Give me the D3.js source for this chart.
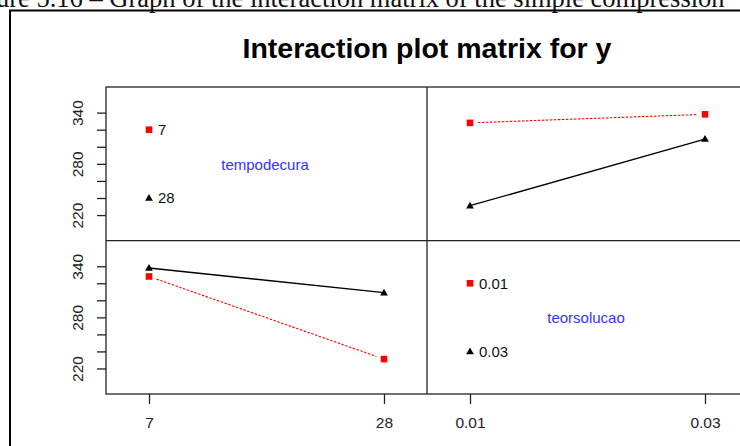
<!DOCTYPE html>
<html>
<head>
<meta charset="utf-8">
<title>Interaction plot matrix for y</title>
<script src="https://cdnjs.cloudflare.com/ajax/libs/d3/7.8.5/d3.min.js"></script>
<style>
  body { margin: 0; background: #fff; }
  svg { display: block; }
  .chart text { font-family: Arial, "Liberation Sans", sans-serif; }
  .caption { font-family: "Liberation Serif", "Times New Roman", serif !important; }
</style>
</head>
<body>
<svg class="chart"></svg>
<script>
// factor levels
const tempodecura = ["7", "28"];
const teorsolucao = ["0.01", "0.03"];

// mean of y per tempodecura level, at teorsolucao 0.01 and 0.03
const meanTempo7 = [328, 338];
const meanTempo28 = [231, 309];

// y axis ticks (only some get a label)
const yTicks = [220, 240, 260, 280, 300, 320, 340];
const yLabels = [220, 280, 340];

// legend text positions on the y scale
const legendLevels = [320, 240];
const legendNameAt = 280;

var W = 740, H = 446;
var svg = d3.select(".chart").attr("width", W).attr("height", H);

// caption of the page above the figure, cut off at the top like the source
svg.append("text")
    .attr("class", "caption")
    .attr("x", -4)
    .attr("y", 6.5)
    .attr("font-size", 26.5)
    .attr("fill", "#111")
    .text("ure 5.16 \u2013 Graph of the interaction matrix of the simple compression");

// outer frame of the figure
svg.append("rect")
    .attr("x", 10).attr("y", 10.5)
    .attr("width", 800).attr("height", 500)
    .attr("fill", "none")
    .attr("stroke", "#000")
    .attr("stroke-width", 2);

svg.append("text")
    .attr("x", 427)
    .attr("y", 58.3)
    .attr("text-anchor", "middle")
    .attr("font-size", 28.5)
    .attr("font-weight", "bold")
    .attr("fill", "#000")
    .text("Interaction plot matrix for y");

//panel grid
var xs = [106, 427, 748];
var ys = [87, 240.7, 394];

var colScale = [
    d3.scalePoint().domain(tempodecura).range([xs[0], xs[1]]).padding(0.183),
    d3.scalePoint().domain(teorsolucao).range([xs[1], xs[2]]).padding(0.183)
];
var rowScale = [
    d3.scaleLinear().domain([190, 370]).range([ys[1], ys[0]]),
    d3.scaleLinear().domain([190, 370]).range([ys[2], ys[1]])
];

var red = "#ff0000";
var tri = d3.symbol().type(d3.symbolTriangle).size(26);

function drawSeries(col, row, levels, values, isRed) {
    var x = colScale[col], y = rowScale[row];
    var pts = levels.map((l, i) => [x(l), y(values[i])]);
    var line = pts;
    if (isRed) {
        // type "b" style: leave a gap around the points
        var dx = pts[1][0] - pts[0][0], dy = pts[1][1] - pts[0][1];
        var len = Math.sqrt(dx * dx + dy * dy), g = 8 / len;
        line = [[pts[0][0] + dx * g, pts[0][1] + dy * g],
                [pts[1][0] - dx * g, pts[1][1] - dy * g]];
    }
    svg.append("path")
        .attr("d", d3.line()(line))
        .attr("fill", "none")
        .attr("stroke", isRed ? red : "#000")
        .attr("stroke-width", isRed ? 1.1 : 1.4)
        .attr("stroke-dasharray", isRed ? "2.5,1.5" : null);
    pts.forEach(p => drawMarker(p[0], p[1], isRed));
}

function drawMarker(px, py, isRed) {
    if (isRed) {
        svg.append("rect")
            .attr("x", px - 3.3).attr("y", py - 3.3)
            .attr("width", 6.6).attr("height", 6.6)
            .attr("fill", red);
    } else {
        svg.append("path")
            .attr("d", tri)
            .attr("transform", "translate(" + px + "," + (py + 0.5) + ")")
            .attr("fill", "#000");
    }
}

function drawLegend(col, row, levels, name) {
    var x = colScale[col], y = rowScale[row];
    var mx = x(levels[0]);
    levels.forEach((l, i) => {
        var py = y(legendLevels[i]);
        drawMarker(mx, py, i == 0);
        svg.append("text")
            .attr("x", mx + 9)
            .attr("y", py)
            .attr("dy", "0.36em")
            .attr("font-size", 15)
            .attr("fill", "#111")
            .text(l);
    });
    svg.append("text")
        .attr("x", (xs[col] + xs[col + 1]) / 2 - 1.5)
        .attr("y", y(legendNameAt))
        .attr("dy", "0.4em")
        .attr("text-anchor", "middle")
        .attr("font-size", 15)
        .attr("fill", "#3333ff")
        .text(name);
}

// top-left: legend for tempodecura
drawLegend(0, 0, tempodecura, "tempodecura");
// top-right: y against teorsolucao, one trace per tempodecura
drawSeries(1, 0, teorsolucao, meanTempo7, true);
drawSeries(1, 0, teorsolucao, meanTempo28, false);
// bottom-left: y against tempodecura, one trace per teorsolucao
drawSeries(0, 1, tempodecura, [meanTempo7[0], meanTempo28[0]], true);
drawSeries(0, 1, tempodecura, [meanTempo7[1], meanTempo28[1]], false);
// bottom-right: legend for teorsolucao
drawLegend(1, 1, teorsolucao, "teorsolucao");

// panel borders
var border = svg.append("g")
    .attr("fill", "none")
    .attr("stroke", "#222")
    .attr("stroke-width", 1.3);
border.append("rect")
    .attr("x", xs[0]).attr("y", ys[0])
    .attr("width", xs[2] - xs[0]).attr("height", ys[2] - ys[0]);
border.append("line")
    .attr("x1", xs[1]).attr("x2", xs[1]).attr("y1", ys[0]).attr("y2", ys[2]);
border.append("line")
    .attr("x1", xs[0]).attr("x2", xs[2]).attr("y1", ys[1]).attr("y2", ys[1]);

// left axes
rowScale.forEach(function(y) {
    var ax = svg.append("g")
        .attr("transform", "translate(" + xs[0] + ",0)")
        .style("color", "#222")
        .call(d3.axisLeft(y).tickValues(yTicks).tickSize(9)
            .tickFormat(d => yLabels.includes(d) ? d : ""));
    ax.select(".domain").remove();
    ax.selectAll("line").attr("stroke-width", 1.3);
    ax.selectAll("text")
        .attr("x", null).attr("dy", null)
        .attr("text-anchor", "middle")
        .attr("font-size", 15.5)
        .attr("font-family", null)
        .attr("transform", "translate(-23.5,0) rotate(-90)");
});

// bottom axes
colScale.forEach(function(x) {
    var ax = svg.append("g")
        .attr("transform", "translate(0," + ys[2] + ")")
        .style("color", "#222")
        .call(d3.axisBottom(x).tickSize(10).tickPadding(13));
    ax.select(".domain").remove();
    ax.selectAll("line").attr("stroke-width", 1.3);
    ax.selectAll("text")
        .attr("font-size", 15.5)
        .attr("font-family", null);
});
</script>
</body>
</html>
